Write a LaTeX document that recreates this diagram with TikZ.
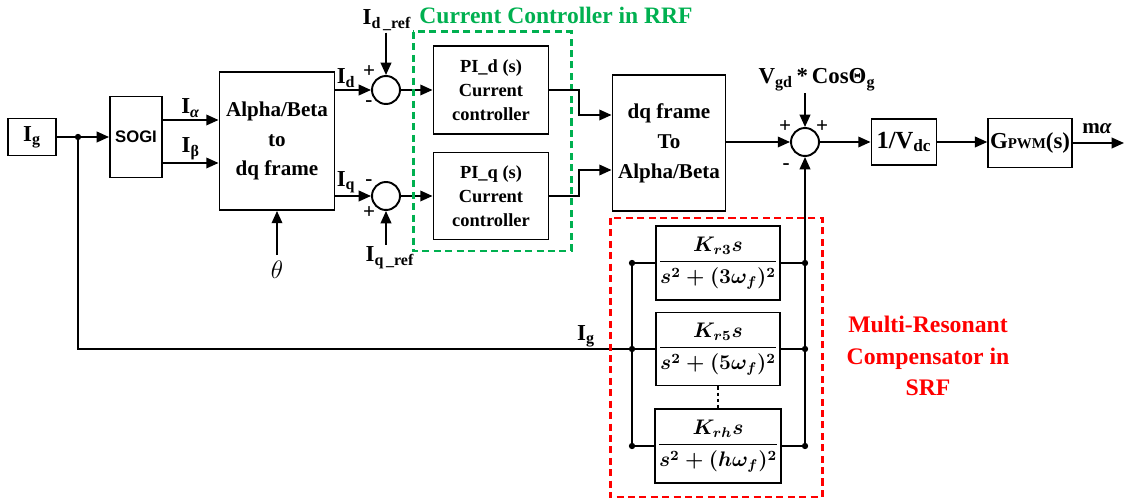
\documentclass[tikz,border=0pt]{standalone}
\usepackage{amsmath}
\usepackage{fontspec}
\setmainfont{Liberation Serif}
\newfontfamily\sogifont{Liberation Sans}
\usetikzlibrary{arrows.meta,positioning}
\definecolor{CtrlGreen}{HTML}{00B050}
\definecolor{ResRed}{HTML}{FF0000}
\tikzset{
  blk/.style={draw, line width=1.1pt, align=center, inner sep=1pt},
  sumj/.style={draw, circle, line width=1.1pt, minimum size=0.56cm, inner sep=0pt},
  sig/.style={-{Triangle[length=7pt,width=6pt]}, line width=1.1pt},
  wire/.style={line width=1.1pt},
  jdot/.style={circle, fill, inner sep=0pt, minimum size=3.6pt},
  lbl/.style={font=\fontsize{13}{15}\selectfont\bfseries, inner sep=1pt},
  pm/.style={font=\fontsize{12}{12}\selectfont\bfseries, inner sep=0pt},
  zone/.style={dash pattern=on 4pt off 2.5pt, line width=1.7pt}
}

\begin{document}
\begin{tikzpicture}[x=0.02cm, y=-0.02cm]
  \useasboundingbox (0,0) rectangle (1124,502);

  % input and frame transformation
  \node[blk, minimum width=0.96cm, minimum height=0.74cm,
    font=\fontsize{13}{15}\selectfont\bfseries] (ig) at (32,137) {I\textsubscript{g}};
  \coordinate (igtap) at (78,137);
  \node[blk, minimum width=1.04cm, minimum height=1.62cm,
    font=\sogifont\fontsize{9.5}{11}\selectfont\bfseries] (sogi) at (136,137) {SOGI};
  \node[blk, minimum width=2.3cm, minimum height=2.76cm,
    font=\fontsize{12}{17}\selectfont\bfseries] (abdq) at (277,141) {Alpha/Beta\\to\\dq frame};
  \node[font=\fontsize{14}{14}\selectfont] (theta) at (277,270) {$\theta$};

  \draw[wire] (ig.east) -- (igtap);
  \draw[sig] (igtap) -- (sogi.west);
  \node[jdot] (igdot) at (igtap) {};
  \draw[sig] (sogi.east |- 0,120) -- (abdq.west |- 0,120)
    node[midway, above, lbl] (lia) {I\textsubscript{\textit{α}}};
  \draw[sig] (sogi.east |- 0,163) -- (abdq.west |- 0,163)
    node[midway, above, lbl] (lib) {I\textsubscript{β}};
  \draw[sig] (theta.north) -- (abdq.south);

  % current controllers
  \node[sumj] (sumd) at (386,90) {};
  \node[sumj] (sumq) at (386,196) {};
  \node[lbl] (idref) at (387,20) {I\textsubscript{d\,\_ref}};
  \node[lbl] (iqref) at (390,258) {I\textsubscript{q\,\_ref}};
  \node[pm] (pd1) at (369,72) {+};
  \node[pm] (pd2) at (369,104) {-};
  \node[pm] (pq1) at (369,183) {-};
  \node[pm] (pq2) at (369,213) {+};

  \draw[sig] (abdq.east |- sumd) -- (sumd.west)
    node[pos=0.3, above, lbl] (lid) {I\textsubscript{d}};
  \draw[sig] (abdq.east |- sumq) -- (sumq.west)
    node[pos=0.3, above, lbl] (liq) {I\textsubscript{q}};
  \draw[sig] (sumd |- idref.south) -- (sumd.north);
  \draw[sig] (sumq |- iqref.north) -- (sumq.south);

  \node[blk, minimum width=2.3cm, minimum height=1.76cm,
    font=\fontsize{10.5}{13.6}\selectfont\bfseries] (pid) at (491,90) {PI\_d (s)\\Current\\controller};
  \node[blk, minimum width=2.3cm, minimum height=1.74cm,
    font=\fontsize{10.5}{13.6}\selectfont\bfseries] (piq) at (491,196) {PI\_q (s)\\Current\\controller};
  \draw[sig] (sumd.east) -- (pid.west);
  \draw[sig] (sumq.east) -- (piq.west);

  \draw[zone, CtrlGreen] (413,32) rectangle (571,251);
  \node[font=\fontsize{13.4}{15}\selectfont\bfseries, text=CtrlGreen] (ccl) at (556,15)
    {Current Controller in RRF};

  % back to stationary frame and modulation
  \node[blk, minimum width=2.26cm, minimum height=2.72cm,
    font=\fontsize{12}{17}\selectfont\bfseries] (dqab) at (669,143) {dq frame\\To\\Alpha/Beta};
  \draw[sig] (pid.east) -| (579,115) -- (dqab.west |- 0,115);
  \draw[sig] (piq.east) -| (579,170) -- (dqab.west |- 0,170);

  \node[sumj] (sumv) at (805,142) {};
  \node[lbl] (vgd) at (817,80) {V\textsubscript{gd}\,*\,CosΘ\textsubscript{g}};
  \node[pm] (pv1) at (785,127) {+};
  \node[pm] (pv2) at (822,127) {+};
  \node[pm] (pv3) at (786,167) {-};
  \draw[sig] (dqab.east |- sumv) -- (sumv.west);
  \draw[sig] (sumv |- vgd.south) -- (sumv.north);

  \node[blk, minimum width=1.3cm, minimum height=0.92cm,
    font=\fontsize{14}{16}\selectfont\bfseries] (vdc) at (904,142) {1/V\textsubscript{dc}};
  \node[blk, minimum width=1.6cm, minimum height=0.98cm,
    font=\fontsize{13}{15}\selectfont\bfseries] (gpwm) at (1030,143) {G{\fontsize{8.5}{9}\selectfont PWM}(s)};
  \coordinate (out) at (1124,143);
  \draw[sig] (sumv.east) -- (vdc.west);
  \draw[sig] (vdc.east) -- (gpwm.west |- vdc);
  \draw[sig] (gpwm.east) -- (out);
  \node[font=\fontsize{12}{14}\selectfont\bfseries, inner sep=0pt] (lma) at (1097,129) {m\textit{α}};

  % resonant compensator
  \node[blk, minimum width=2.24cm, minimum height=1.48cm,
    font=\fontsize{12}{14}\selectfont\boldmath] (res1) at (718,263)
    {$\dfrac{K_{r3}s}{s^2+(3\omega_f)^2}$};
  \node[blk, minimum width=2.24cm, minimum height=1.46cm,
    font=\fontsize{12}{14}\selectfont\boldmath] (res2) at (718,349)
    {$\dfrac{K_{r5}s}{s^2+(5\omega_f)^2}$};
  \node[blk, minimum width=2.24cm, minimum height=1.48cm,
    font=\fontsize{12}{14}\selectfont\boldmath] (res3) at (718,446)
    {$\dfrac{K_{rh}s}{s^2+(h\omega_f)^2}$};
  \draw[line width=1.1pt, dash pattern=on 2pt off 1.5pt] (res2.south) -- (res3.north);

  \coordinate (lb1) at (632,263);
  \coordinate (lb2) at (632,349);
  \coordinate (lb3) at (632,446);
  \coordinate (rb1) at (sumv |- res1);
  \coordinate (rb2) at (sumv |- res2);
  \coordinate (rb3) at (sumv |- res3);

  \draw[wire] (igtap) |- (lb2);
  \node[lbl] (lig) at (586,336) {I\textsubscript{g}};
  \draw[wire] (lb1) -- (lb3);
  \draw[wire] (lb1) -- (res1.west);
  \draw[wire] (lb2) -- (res2.west);
  \draw[wire] (lb3) -- (res3.west);
  \draw[wire] (res1.east) -- (rb1);
  \draw[wire] (res2.east) -- (rb2);
  \draw[wire] (res3.east) -- (rb3);
  \draw[sig] (rb3) -- (sumv.south);
  \foreach \p in {lb1,lb2,lb3,rb1,rb2,rb3}
    \node[jdot] at (\p) {};

  \draw[zone, ResRed] (610,218) rectangle (822,497);
  \node[font=\fontsize{13.5}{18}\selectfont\bfseries, text=ResRed, align=center] (mrc) at (928,356)
    {Multi-Resonant\\Compensator in\\SRF};
\end{tikzpicture}
\end{document}
